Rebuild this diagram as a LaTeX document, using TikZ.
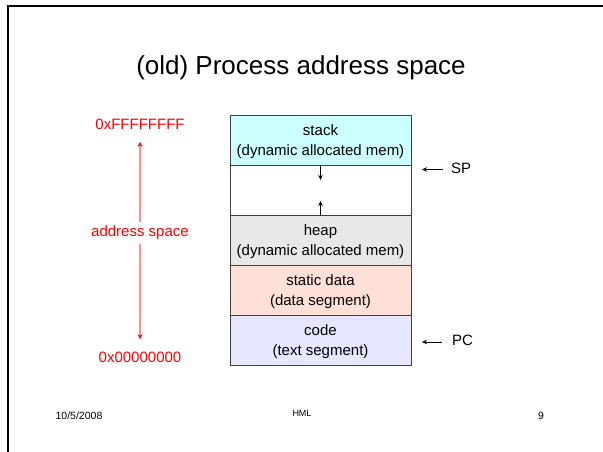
\documentclass[tikz,border=0pt]{standalone}
\usepackage{fontspec}
\setmainfont{Liberation Sans}
\usetikzlibrary{positioning,arrows.meta}
\definecolor{stackcol}{HTML}{CCFFFF}
\definecolor{heapcol}{HTML}{E8E8E8}
\definecolor{datacol}{HTML}{FFE0D8}
\definecolor{codecol}{HTML}{E6E6FF}
\definecolor{addrred}{HTML}{FF0000}
\definecolor{addrline}{HTML}{FF9090}

\begin{document}
\begin{tikzpicture}[x=1pt, y=-1pt, node distance=0pt,
  seg/.style={draw=black!75, line width=0.8pt, minimum width=181pt, minimum height=50pt,
    outer sep=0pt, inner sep=0pt, align=center, text depth=0pt, font=\fontsize{15}{20}\selectfont},
  addr/.style={text=addrred, font=\fontsize{15}{18}\selectfont},
  reg/.style={font=\fontsize{15}{18}\selectfont, inner sep=0pt, anchor=west},
  ptr/.style={-{Stealth[length=5pt,width=4.5pt]}, line width=0.7pt},
  addrptr/.style={-{Stealth[length=5pt,width=5pt,color=addrred]}, line width=1.3pt, draw=addrline},
  foot/.style={font=\fontsize{10.5}{12}\selectfont}]
  \useasboundingbox (0,0) rectangle (603,452);

  % Frame
  \draw[line width=2.2pt] (8,452) -- (8,6) -- (603,6);

  % Title
  \node[font=\fontsize{26}{30}\selectfont] (title) at (301,68) {(old) Process address space};

  % Segments
  \node[seg, fill=stackcol] (stack) at (320.5,140) {stack\\(dynamic allocated mem)};
  \node[seg, below=of stack] (free) {};
  \node[seg, fill=heapcol, below=of free] (heap) {heap\\(dynamic allocated mem)};
  \node[seg, fill=datacol, below=of heap] (data) {static data\\(data segment)};
  \node[seg, fill=codecol, below=of data] (code) {code\\(text segment)};

  % Growth arrows
  \coordinate[below=15pt of free.north] (stacktip);
  \coordinate[above=14pt of free.south] (heaptip);
  \draw[ptr] (free.north) -- (stacktip);
  \draw[ptr] (free.south) -- (heaptip);

  % Registers
  \node[reg] (sp) at (451,168) {SP};
  \node[reg] (pc) at (452,340) {PC};
  \draw[ptr] ([xshift=-8pt,yshift=-1.5pt]sp.west) -- ([xshift=-29pt,yshift=-1.5pt]sp.west);
  \draw[ptr] ([xshift=-10pt,yshift=-2pt]pc.west) -- ([xshift=-30pt,yshift=-2pt]pc.west);

  % Address range
  \node[addr] (top) at (140,124) {0xFFFFFFFF};
  \node[addr] (mid) at (140,233) {address space};
  \node[addr] (bot) at (140,357) {0x00000000};
  \coordinate[below=9pt of top] (toptip);
  \coordinate[above=9pt of bot] (bottip);
  \draw[addrptr] (mid.north) -- (toptip);
  \draw[addrptr] (mid.south) -- (bottip);

  % Footer
  \node[foot] (date) at (79,416) {10/5/2008};
  \node[font=\fontsize{9}{11}\selectfont] (hml) at (302,413) {HML};
  \node[foot] (page) at (541,416) {9};
\end{tikzpicture}
\end{document}
